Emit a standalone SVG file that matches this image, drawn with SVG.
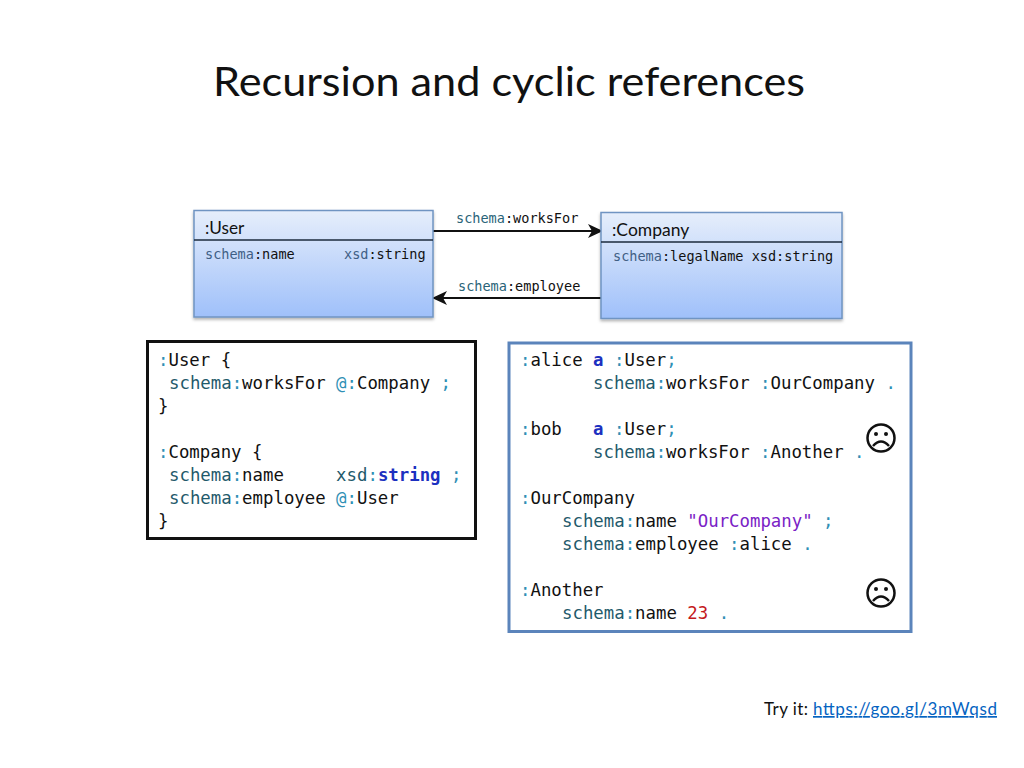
<svg xmlns="http://www.w3.org/2000/svg" width="1024" height="768" viewBox="0 0 1024 768">
<style>
.t{font-family:"Lato","Liberation Sans",sans-serif;fill:#111}
.m{font-family:"DejaVu Sans Mono","Liberation Mono",monospace;font-size:17.35px;fill:#111;white-space:pre}
.s{font-family:"DejaVu Sans Mono","Liberation Mono",monospace;font-size:13.55px;fill:#111;white-space:pre}
.p{fill:#1f5a6b}.c{fill:#2f8fb5}.q{fill:#3f5f85}.l{fill:#2a6478}.k{fill:#1c30c0;font-weight:bold}.v{fill:#7a22c6}.n{fill:#c4191c}
.cls{fill:url(#g);stroke:#6f94c2;stroke-width:1.5;filter:url(#sh)}
.ln{stroke:#111;stroke-width:2;fill:none}
.face{fill:none;stroke:#111;stroke-width:2.500}
</style>
<defs>
<linearGradient id="g" x1="0" y1="0" x2="0" y2="1"><stop offset="0" stop-color="#e6eefb"/><stop offset="1" stop-color="#9fc0fa"/></linearGradient>
<filter id="sh" x="-5%" y="-5%" width="110%" height="115%"><feDropShadow dx="0" dy="2" stdDeviation="1.5" flood-color="#000" flood-opacity="0.3"/></filter>
<marker id="a" viewBox="0 0 15 14" refX="14" refY="7" markerWidth="15" markerHeight="14" markerUnits="userSpaceOnUse" orient="auto"><path d="M0 0L15 7L0 14L4 7Z" fill="#111"/></marker>
<g id="sad"><circle r="13.500" class="face"/><circle cx="-5" cy="-4" r="2" fill="#111"/><circle cx="5" cy="-4" r="2" fill="#111"/><path d="M-8 8Q0 -1 8 8" class="face"/></g>
</defs>
<rect width="1024" height="768" fill="#fff"/>
<text id="title" class="t" x="213" y="96" font-size="41" textLength="592" lengthAdjust="spacingAndGlyphs">Recursion and cyclic references</text>
<g id="connectors">
<path class="ln" d="M433 231H602" marker-end="url(#a)"/>
<path class="ln" d="M601 298H433" marker-end="url(#a)"/>
<text class="s" x="456" y="223"><tspan class="l">schema</tspan>:worksFor</text>
<text class="s" x="458" y="291"><tspan class="l">schema</tspan>:employee</text>
</g>
<g id="user">
<rect class="cls" x="194" y="210.500" width="239" height="106.500"/>
<path d="M194 240H433" stroke="#1b2a3c" stroke-width="1.500"/>
<text class="t" x="205" y="234" font-size="17.200">:User</text>
<text class="s" x="205" y="259"><tspan class="q">schema</tspan>:name</text>
<text class="s" x="344" y="259"><tspan class="q">xsd</tspan>:string</text>
</g>
<g id="company">
<rect class="cls" x="601" y="212.500" width="241" height="106"/>
<path d="M601 242H842" stroke="#1b2a3c" stroke-width="1.500"/>
<text class="t" x="612" y="236" font-size="17.500">:Company</text>
<text class="s" x="613" y="261"><tspan class="q">schema</tspan>:legalName xsd:string</text>
</g>
<g id="shex">
<rect x="147.500" y="341.500" width="328" height="197" fill="#fff" stroke="#111" stroke-width="3"/>
<text class="m" x="158" y="366"><tspan class="c">:</tspan>User {</text>
<text class="m" x="169" y="389"><tspan class="p">schema</tspan><tspan class="c">:</tspan>worksFor <tspan class="c">@:</tspan>Company <tspan class="c">;</tspan></text>
<text class="m" x="158" y="412">}</text>
<text class="m" x="158" y="458"><tspan class="c">:</tspan>Company {</text>
<text class="m" x="169" y="481"><tspan class="p">schema</tspan><tspan class="c">:</tspan>name     <tspan class="p">xsd</tspan><tspan class="c">:</tspan><tspan class="k">string</tspan> <tspan class="c">;</tspan></text>
<text class="m" x="169" y="504"><tspan class="p">schema</tspan><tspan class="c">:</tspan>employee <tspan class="c">@:</tspan>User</text>
<text class="m" x="158" y="527">}</text>
</g>
<g id="data">
<rect x="509" y="343" width="402" height="288.500" fill="#fff" stroke="#5b84bb" stroke-width="3"/>
<text class="m" x="520" y="366"><tspan class="c">:</tspan>alice <tspan class="k">a</tspan> <tspan class="c">:</tspan>User<tspan class="c">;</tspan></text>
<text class="m" x="593" y="389"><tspan class="p">schema</tspan><tspan class="c">:</tspan>worksFor <tspan class="c">:</tspan>OurCompany <tspan class="c">.</tspan></text>
<text class="m" x="520" y="435"><tspan class="c">:</tspan>bob   <tspan class="k">a</tspan> <tspan class="c">:</tspan>User<tspan class="c">;</tspan></text>
<text class="m" x="593" y="458"><tspan class="p">schema</tspan><tspan class="c">:</tspan>worksFor <tspan class="c">:</tspan>Another <tspan class="c">.</tspan></text>
<text class="m" x="520" y="504"><tspan class="c">:</tspan>OurCompany</text>
<text class="m" x="562" y="527"><tspan class="p">schema</tspan><tspan class="c">:</tspan>name <tspan class="v">"OurCompany"</tspan> <tspan class="c">;</tspan></text>
<text class="m" x="562" y="550"><tspan class="p">schema</tspan><tspan class="c">:</tspan>employee <tspan class="c">:</tspan>alice <tspan class="c">.</tspan></text>
<text class="m" x="520" y="596"><tspan class="c">:</tspan>Another</text>
<text class="m" x="562" y="619"><tspan class="p">schema</tspan><tspan class="c">:</tspan>name <tspan class="n">23</tspan> <tspan class="c">.</tspan></text>
<use href="#sad" x="881" y="438"/>
<use href="#sad" x="881" y="593"/>
</g>
<g id="tryit">
<text class="t" x="764" y="715" font-size="17" textLength="44">Try it:</text>
<text class="t" x="813" y="715" font-size="17" textLength="184" style="fill:#0563c1" text-decoration="underline">https://goo.gl/3mWqsd</text>
</g>
</svg>
